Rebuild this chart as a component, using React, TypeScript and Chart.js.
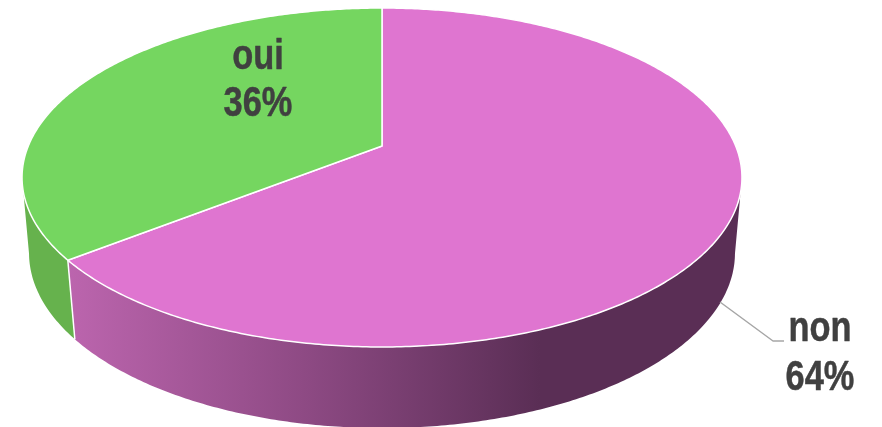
import React, { useEffect, useRef } from "react";
import { Chart, registerables } from "chart.js";

Chart.register(...registerables);

const categories = ["non", "oui"];
const shares = [64.4, 35.6];
const percentLabels = ["64%", "36%"];

const topColors = ["#DF75D0", "#75D660"];
const FONT = 'bold 43px "Liberation Sans", sans-serif';
const NARROW = 0.8;
const TEXT = "#404040";

type Proj = { cx: number; s: number; a: number; b: number; c: number };
const TOP: Proj = { cx: 382, s: 353.7, a: 136.5, b: 146, c: -0.1858 };
const BOTTOM: Proj = { cx: 382, s: 347.2, a: 129.5, b: 221.5, c: -0.18 };
const FRONT_FROM = 0.185;
const FRONT_TO = Math.PI - 0.185;

const project = (p: Proj, t: number): [number, number] => {
  const u = Math.cos(t);
  const v = Math.sin(t);
  const w = 1 + p.c * v;
  return [p.cx + (p.s * u) / w, (p.a * v + p.b) / w];
};

const rim = (p: Proj, from: number, to: number): [number, number][] => {
  const n = Math.max(2, Math.ceil(Math.abs(to - from) / 0.01));
  const out: [number, number][] = [];
  for (let i = 0; i <= n; i++) out.push(project(p, from + ((to - from) * i) / n));
  return out;
};

const threeD = {
  id: "threeD",
  beforeDatasetsDraw(chart: any) {
    const ctx: CanvasRenderingContext2D = chart.ctx;
    const arcs = chart.getDatasetMeta(0).data;
    ctx.save();

    const pinkWall = ctx.createLinearGradient(67, 0, 540, 0);
    pinkWall.addColorStop(0, "#BC65AE");
    pinkWall.addColorStop(0.5, "#8E4A84");
    pinkWall.addColorStop(1, "#5A2E55");
    const wallFills: (CanvasGradient | string)[] = [pinkWall, "#66B24D"];

    // side wall of each slice (front-facing part only)
    arcs.forEach((arc: any, i: number) => {
      const from = Math.max(arc.startAngle, FRONT_FROM);
      const to = Math.min(arc.endAngle, FRONT_TO);
      if (to <= from) return;
      const t = rim(TOP, from, to);
      const b = rim(BOTTOM, from, to).reverse();
      ctx.beginPath();
      [...t, ...b].forEach(([x, y], k) => (k ? ctx.lineTo(x, y) : ctx.moveTo(x, y)));
      ctx.closePath();
      ctx.fillStyle = wallFills[i];
      ctx.fill();
    });

    // seam on the front wall between the slices
    const seam = arcs[0].endAngle;
    const [sx0, sy0] = project(TOP, seam);
    const [sx1, sy1] = project(BOTTOM, seam);
    ctx.strokeStyle = "#FFFFFF";
    ctx.lineWidth = 1.5;
    ctx.beginPath();
    ctx.moveTo(sx0, sy0);
    ctx.lineTo(sx1, sy1);
    ctx.stroke();

    // top face of each slice
    arcs.forEach((arc: any, i: number) => {
      const pts = rim(TOP, arc.startAngle, arc.endAngle);
      ctx.beginPath();
      ctx.moveTo(TOP.cx, TOP.b);
      pts.forEach(([x, y]) => ctx.lineTo(x, y));
      ctx.closePath();
      ctx.fillStyle = topColors[i];
      ctx.fill();
      ctx.lineJoin = "round";
      ctx.strokeStyle = "#FFFFFF";
      ctx.lineWidth = 1.5;
      ctx.stroke();
    });

    // leader line
    ctx.strokeStyle = "#A6A6A6";
    ctx.lineWidth = 1.5;
    ctx.beginPath();
    ctx.moveTo(720, 302);
    ctx.lineTo(773, 341);
    ctx.lineTo(784, 341);
    ctx.stroke();

    // labels
    const places: [number, number, number][] = [
      [820, 329, 378],
      [258, 57, 104],
    ];
    ctx.font = FONT;
    ctx.fillStyle = TEXT;
    ctx.strokeStyle = TEXT;
    ctx.lineWidth = 0.5;
    ctx.textAlign = "center";
    ctx.textBaseline = "middle";
    categories.forEach((name, i) => {
      const [x, y1, y2] = places[i];
      ctx.save();
      ctx.translate(x, 0);
      ctx.scale(NARROW, 1);
      ctx.fillText(name, 0, y1);
      ctx.strokeText(name, 0, y1);
      ctx.fillText(percentLabels[i], 0, y2);
      ctx.strokeText(percentLabels[i], 0, y2);
      ctx.restore();
    });

    ctx.restore();
    return false;
  },
};

export default function App() {
  const ref = useRef<HTMLCanvasElement>(null);
  useEffect(() => {
    document.body.style.margin = "0";
    const chart = new Chart(ref.current!, {
      type: "pie",
      data: {
        labels: categories,
        datasets: [{ data: shares, backgroundColor: topColors, borderWidth: 0 }],
      },
      options: {
        animation: false,
        responsive: false,
        events: [],
        plugins: { legend: { display: false }, tooltip: { enabled: false } },
      },
      plugins: [threeD],
    });
    return () => chart.destroy();
  }, []);
  return (
    <div style={{ width: 882, height: 427, overflow: "hidden" }}>
      <canvas ref={ref} width={882} height={427} style={{ display: "block" }} />
    </div>
  );
}
